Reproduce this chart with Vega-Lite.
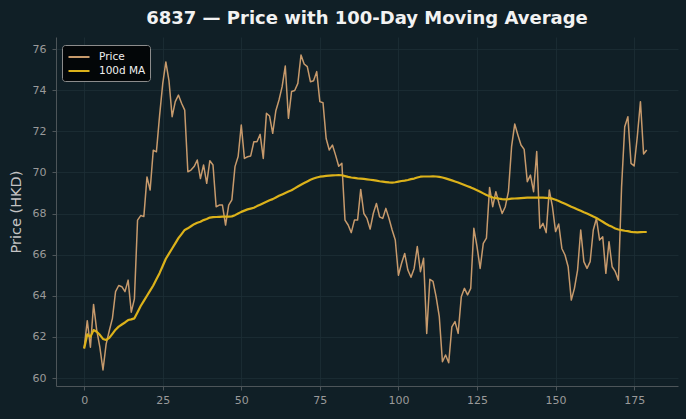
{
  "$schema": "https://vega.github.io/schema/vega-lite/v6.json",
  "width": 622,
  "height": 349,
  "autosize": {"type": "none"},
  "padding": {"left": 56, "top": 37, "right": 8, "bottom": 33},
  "background": "#101f26",
  "title": {
    "text": "6837 — Price with 100-Day Moving Average",
    "font": "DejaVu Sans",
    "fontSize": 18,
    "fontWeight": "bold",
    "color": "#f2f2f2",
    "anchor": "middle",
    "offset": 9
  },
  "config": {
    "view": {"stroke": null, "fill": "#101f26"},
    "font": "DejaVu Sans",
    "axis": {
      "labelFont": "DejaVu Sans",
      "labelFontSize": 11,
      "labelColor": "#9a9a9a",
      "domainColor": "#4d5559",
      "tickColor": "#4d5559",
      "tickSize": 4,
      "gridColor": "#1d2e36",
      "gridWidth": 0.8,
      "titleFont": "DejaVu Sans",
      "titleFontWeight": "normal",
      "titleColor": "#c4c4c4",
      "titleFontSize": 14.5
    }
  },
  "data": {
    "values": [
      {"d": 0, "price": 61.44, "ma": 61.44},
      {"d": 1, "price": 62.79, "ma": 62.12},
      {"d": 2, "price": 61.5, "ma": 62.0},
      {"d": 3, "price": 63.58, "ma": 62.33},
      {"d": 4, "price": 62.33, "ma": 62.25},
      {"d": 5, "price": 61.5, "ma": 62.1},
      {"d": 6, "price": 60.39, "ma": 61.9},
      {"d": 7, "price": 61.65, "ma": 61.85},
      {"d": 8, "price": 62.3, "ma": 61.95},
      {"d": 9, "price": 62.9, "ma": 62.15},
      {"d": 10, "price": 64.2, "ma": 62.35},
      {"d": 11, "price": 64.5, "ma": 62.5},
      {"d": 12, "price": 64.44, "ma": 62.6},
      {"d": 13, "price": 64.2, "ma": 62.7},
      {"d": 14, "price": 64.76, "ma": 62.82},
      {"d": 15, "price": 63.2, "ma": 62.85},
      {"d": 16, "price": 63.85, "ma": 62.9},
      {"d": 17, "price": 67.68, "ma": 63.2},
      {"d": 18, "price": 67.9, "ma": 63.5},
      {"d": 19, "price": 67.85, "ma": 63.75},
      {"d": 20, "price": 69.78, "ma": 64.0},
      {"d": 21, "price": 69.14, "ma": 64.25},
      {"d": 22, "price": 71.08, "ma": 64.5},
      {"d": 23, "price": 71.0, "ma": 64.8},
      {"d": 24, "price": 72.75, "ma": 65.1},
      {"d": 25, "price": 74.3, "ma": 65.45},
      {"d": 26, "price": 75.37, "ma": 65.8},
      {"d": 27, "price": 74.45, "ma": 66.05},
      {"d": 28, "price": 72.71, "ma": 66.3},
      {"d": 29, "price": 73.44, "ma": 66.55},
      {"d": 30, "price": 73.76, "ma": 66.8},
      {"d": 31, "price": 73.36, "ma": 67.0},
      {"d": 32, "price": 73.03, "ma": 67.2},
      {"d": 33, "price": 70.03, "ma": 67.28},
      {"d": 34, "price": 70.11, "ma": 67.38},
      {"d": 35, "price": 70.28, "ma": 67.48},
      {"d": 36, "price": 70.6, "ma": 67.55},
      {"d": 37, "price": 69.7, "ma": 67.6},
      {"d": 38, "price": 70.36, "ma": 67.68},
      {"d": 39, "price": 69.47, "ma": 67.73},
      {"d": 40, "price": 70.57, "ma": 67.8},
      {"d": 41, "price": 70.36, "ma": 67.82},
      {"d": 42, "price": 68.33, "ma": 67.83},
      {"d": 43, "price": 68.41, "ma": 67.84},
      {"d": 44, "price": 68.41, "ma": 67.85},
      {"d": 45, "price": 67.44, "ma": 67.85},
      {"d": 46, "price": 68.41, "ma": 67.85},
      {"d": 47, "price": 68.66, "ma": 67.86},
      {"d": 48, "price": 70.28, "ma": 67.92},
      {"d": 49, "price": 70.77, "ma": 68.0},
      {"d": 50, "price": 72.3, "ma": 68.08},
      {"d": 51, "price": 70.68, "ma": 68.14},
      {"d": 52, "price": 70.76, "ma": 68.2},
      {"d": 53, "price": 70.8, "ma": 68.24},
      {"d": 54, "price": 71.49, "ma": 68.28},
      {"d": 55, "price": 71.49, "ma": 68.36},
      {"d": 56, "price": 71.85, "ma": 68.43},
      {"d": 57, "price": 70.68, "ma": 68.5},
      {"d": 58, "price": 72.87, "ma": 68.57},
      {"d": 59, "price": 72.74, "ma": 68.64},
      {"d": 60, "price": 71.9, "ma": 68.7},
      {"d": 61, "price": 73.0, "ma": 68.78},
      {"d": 62, "price": 73.52, "ma": 68.86},
      {"d": 63, "price": 74.17, "ma": 68.93},
      {"d": 64, "price": 75.17, "ma": 69.0},
      {"d": 65, "price": 72.63, "ma": 69.07},
      {"d": 66, "price": 73.93, "ma": 69.13},
      {"d": 67, "price": 73.98, "ma": 69.22},
      {"d": 68, "price": 74.33, "ma": 69.31},
      {"d": 69, "price": 75.71, "ma": 69.4},
      {"d": 70, "price": 75.27, "ma": 69.48},
      {"d": 71, "price": 75.14, "ma": 69.56},
      {"d": 72, "price": 74.41, "ma": 69.64},
      {"d": 73, "price": 74.46, "ma": 69.7},
      {"d": 74, "price": 74.9, "ma": 69.75},
      {"d": 75, "price": 73.44, "ma": 69.79},
      {"d": 76, "price": 73.39, "ma": 69.81},
      {"d": 77, "price": 71.65, "ma": 69.83},
      {"d": 78, "price": 71.09, "ma": 69.84},
      {"d": 79, "price": 71.33, "ma": 69.85},
      {"d": 80, "price": 70.84, "ma": 69.86},
      {"d": 81, "price": 70.3, "ma": 69.87},
      {"d": 82, "price": 70.44, "ma": 69.86},
      {"d": 83, "price": 67.68, "ma": 69.82},
      {"d": 84, "price": 67.44, "ma": 69.78},
      {"d": 85, "price": 67.07, "ma": 69.75},
      {"d": 86, "price": 67.68, "ma": 69.73},
      {"d": 87, "price": 67.68, "ma": 69.71},
      {"d": 88, "price": 69.17, "ma": 69.7},
      {"d": 89, "price": 68.0, "ma": 69.68},
      {"d": 90, "price": 67.76, "ma": 69.66},
      {"d": 91, "price": 67.24, "ma": 69.64},
      {"d": 92, "price": 68.0, "ma": 69.62},
      {"d": 93, "price": 68.49, "ma": 69.6},
      {"d": 94, "price": 67.84, "ma": 69.57},
      {"d": 95, "price": 67.76, "ma": 69.55},
      {"d": 96, "price": 68.25, "ma": 69.53},
      {"d": 97, "price": 67.76, "ma": 69.51},
      {"d": 98, "price": 67.2, "ma": 69.5},
      {"d": 99, "price": 66.71, "ma": 69.52},
      {"d": 100, "price": 65.0, "ma": 69.55},
      {"d": 101, "price": 65.58, "ma": 69.58},
      {"d": 102, "price": 66.06, "ma": 69.6},
      {"d": 103, "price": 65.25, "ma": 69.63},
      {"d": 104, "price": 64.9, "ma": 69.67},
      {"d": 105, "price": 65.33, "ma": 69.7},
      {"d": 106, "price": 66.39, "ma": 69.75},
      {"d": 107, "price": 65.17, "ma": 69.79},
      {"d": 108, "price": 65.82, "ma": 69.8},
      {"d": 109, "price": 62.17, "ma": 69.8},
      {"d": 110, "price": 64.8, "ma": 69.8},
      {"d": 111, "price": 64.7, "ma": 69.81},
      {"d": 112, "price": 63.95, "ma": 69.8},
      {"d": 113, "price": 62.98, "ma": 69.78},
      {"d": 114, "price": 60.79, "ma": 69.75},
      {"d": 115, "price": 61.12, "ma": 69.71},
      {"d": 116, "price": 60.74, "ma": 69.66},
      {"d": 117, "price": 62.49, "ma": 69.61},
      {"d": 118, "price": 62.74, "ma": 69.56},
      {"d": 119, "price": 62.17, "ma": 69.51},
      {"d": 120, "price": 63.95, "ma": 69.45},
      {"d": 121, "price": 64.36, "ma": 69.39},
      {"d": 122, "price": 64.04, "ma": 69.33},
      {"d": 123, "price": 64.36, "ma": 69.27},
      {"d": 124, "price": 67.28, "ma": 69.2},
      {"d": 125, "price": 66.39, "ma": 69.13},
      {"d": 126, "price": 65.33, "ma": 69.06},
      {"d": 127, "price": 66.55, "ma": 68.98},
      {"d": 128, "price": 66.8, "ma": 68.9},
      {"d": 129, "price": 69.27, "ma": 68.84},
      {"d": 130, "price": 68.33, "ma": 68.78},
      {"d": 131, "price": 69.06, "ma": 68.75},
      {"d": 132, "price": 68.49, "ma": 68.72},
      {"d": 133, "price": 68.0, "ma": 68.7},
      {"d": 134, "price": 68.33, "ma": 68.69},
      {"d": 135, "price": 69.06, "ma": 68.7},
      {"d": 136, "price": 71.25, "ma": 68.72},
      {"d": 137, "price": 72.35, "ma": 68.73},
      {"d": 138, "price": 71.82, "ma": 68.74},
      {"d": 139, "price": 71.33, "ma": 68.75},
      {"d": 140, "price": 71.12, "ma": 68.76},
      {"d": 141, "price": 69.55, "ma": 68.77},
      {"d": 142, "price": 69.87, "ma": 68.77},
      {"d": 143, "price": 69.06, "ma": 68.77},
      {"d": 144, "price": 71.01, "ma": 68.77},
      {"d": 145, "price": 67.28, "ma": 68.77},
      {"d": 146, "price": 67.52, "ma": 68.77},
      {"d": 147, "price": 67.07, "ma": 68.76},
      {"d": 148, "price": 69.14, "ma": 68.75},
      {"d": 149, "price": 68.33, "ma": 68.72},
      {"d": 150, "price": 67.12, "ma": 68.67},
      {"d": 151, "price": 67.49, "ma": 68.61},
      {"d": 152, "price": 66.3, "ma": 68.54},
      {"d": 153, "price": 65.98, "ma": 68.47},
      {"d": 154, "price": 65.41, "ma": 68.4},
      {"d": 155, "price": 63.79, "ma": 68.33},
      {"d": 156, "price": 64.36, "ma": 68.27},
      {"d": 157, "price": 65.25, "ma": 68.2},
      {"d": 158, "price": 67.2, "ma": 68.13},
      {"d": 159, "price": 65.66, "ma": 68.06},
      {"d": 160, "price": 65.33, "ma": 68.0},
      {"d": 161, "price": 65.66, "ma": 67.93},
      {"d": 162, "price": 67.2, "ma": 67.85},
      {"d": 163, "price": 67.76, "ma": 67.78},
      {"d": 164, "price": 66.71, "ma": 67.69},
      {"d": 165, "price": 66.87, "ma": 67.6},
      {"d": 166, "price": 65.09, "ma": 67.5},
      {"d": 167, "price": 66.63, "ma": 67.42},
      {"d": 168, "price": 65.41, "ma": 67.35},
      {"d": 169, "price": 65.17, "ma": 67.27},
      {"d": 170, "price": 64.76, "ma": 67.22},
      {"d": 171, "price": 69.3, "ma": 67.19},
      {"d": 172, "price": 72.22, "ma": 67.16},
      {"d": 173, "price": 72.71, "ma": 67.14},
      {"d": 174, "price": 70.44, "ma": 67.11},
      {"d": 175, "price": 70.31, "ma": 67.09},
      {"d": 176, "price": 71.74, "ma": 67.08},
      {"d": 177, "price": 73.44, "ma": 67.09},
      {"d": 178, "price": 70.89, "ma": 67.1},
      {"d": 179, "price": 71.09, "ma": 67.1}
    ]
  },
  "encoding": {
    "x": {
      "field": "d",
      "type": "quantitative",
      "scale": {"domain": [-8.95, 188.95], "nice": false, "zero": false},
      "axis": {"title": null, "values": [0, 25, 50, 75, 100, 125, 150, 175], "labelPadding": 4}
    }
  },
  "layer": [
    {
      "mark": {"type": "line", "strokeWidth": 1.5, "strokeJoin": "round"},
      "encoding": {
        "y": {
          "field": "price",
          "type": "quantitative",
          "scale": {"domain": [59.611, 76.584], "nice": false, "zero": false},
          "axis": {"title": "Price (HKD)", "values": [60, 62, 64, 66, 68, 70, 72, 74, 76], "titlePadding": 9, "labelPadding": 6}
        },
        "color": {
          "datum": "Price",
          "type": "nominal",
          "scale": {"domain": ["Price", "100d MA"], "range": ["#c79a6c", "#dcb21a"]},
          "legend": {
            "title": null,
            "orient": "none",
            "legendX": 6,
            "legendY": 8,
            "fillColor": "#030608",
            "strokeColor": "#8c8c8c",
            "cornerRadius": 3,
            "padding": 4,
            "symbolType": "M-1.5,0H1.5",
            "symbolSize": 196,
            "symbolOffset": 5,
            "symbolStrokeWidth": 2,
            "labelFont": "DejaVu Sans",
            "labelFontSize": 10.5,
            "labelColor": "#f0f0f0",
            "rowPadding": 0,
            "labelOffset": 12
          }
        }
      }
    },
    {
      "mark": {"type": "line", "strokeWidth": 2.2, "strokeJoin": "round"},
      "encoding": {
        "y": {"field": "ma", "type": "quantitative"},
        "color": {"datum": "100d MA", "type": "nominal"}
      }
    }
  ]
}
